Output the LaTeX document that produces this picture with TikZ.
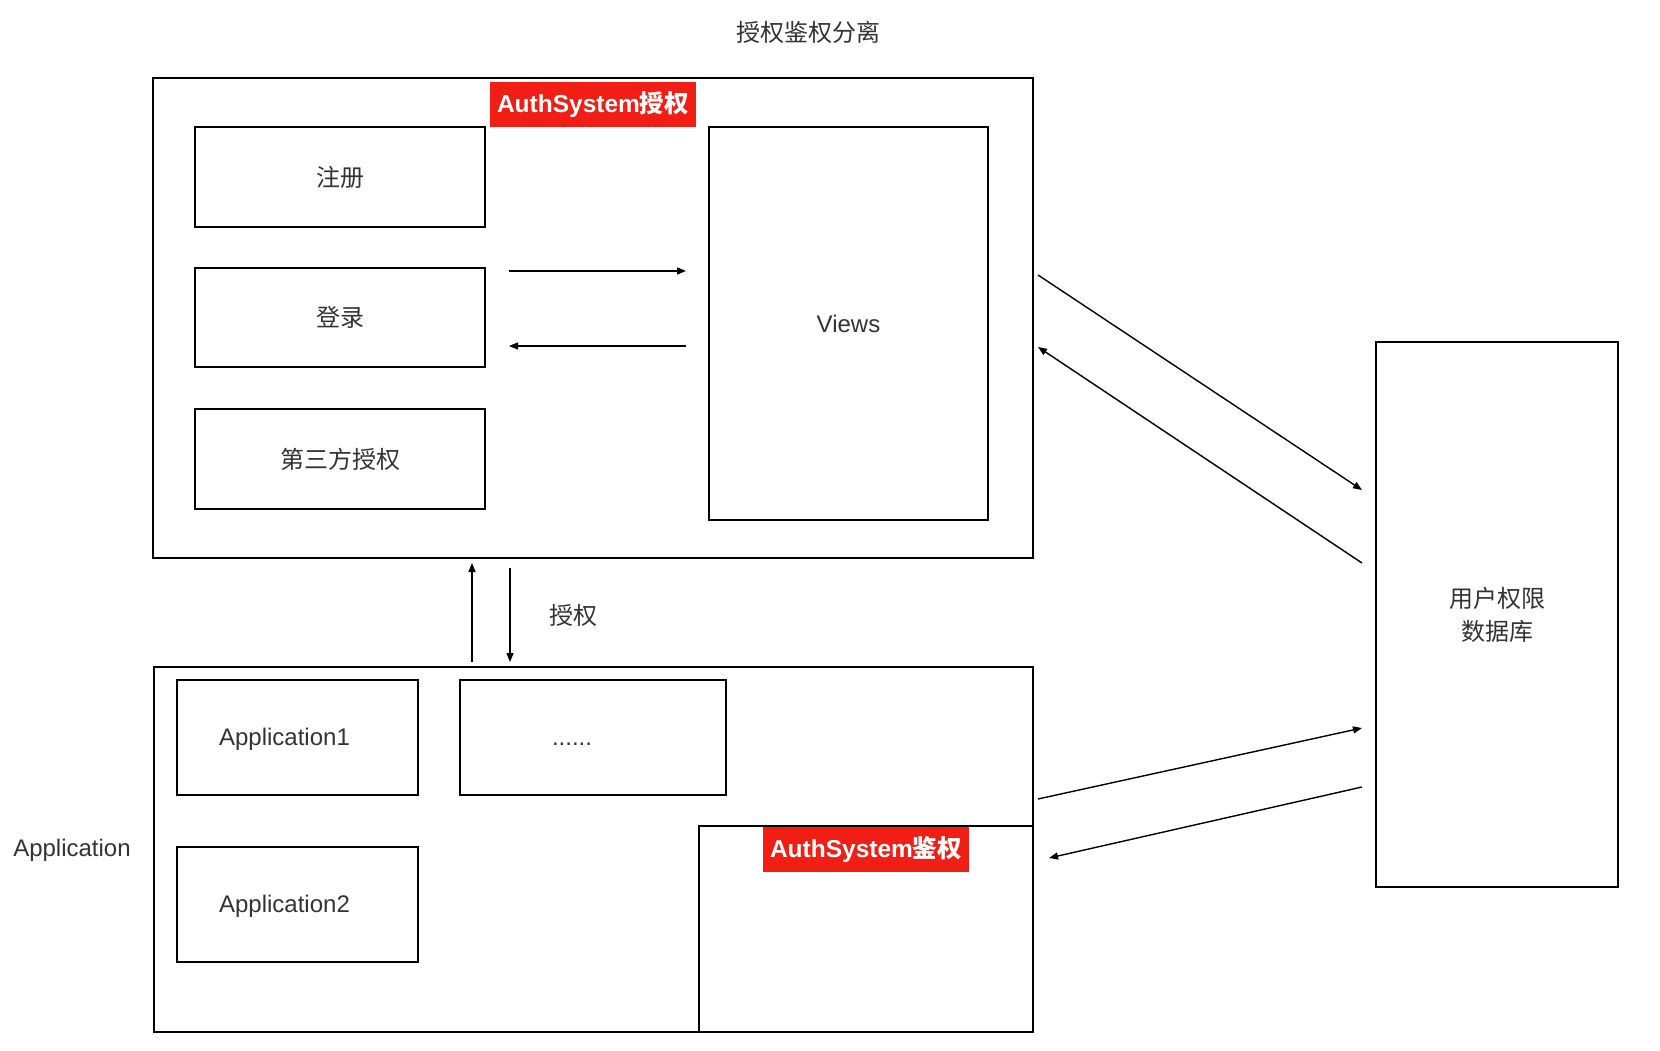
\documentclass[tikz,border=0pt]{standalone}
\usepackage{fontspec}
\setmainfont{Liberation Sans}
\newfontfamily\cjk{Noto Sans CJK SC}
\usetikzlibrary{arrows.meta}
\definecolor{txt}{HTML}{333333}
\definecolor{tagred}{HTML}{F01E14}
\begin{document}
\begin{tikzpicture}[x=1pt,y=-1pt,
  box/.style={draw=black,line width=2pt,inner sep=0pt,text=txt,font=\fontsize{24}{28}\selectfont},
  tag/.style={fill=tagred,inner sep=0pt,text=white,font=\bfseries\fontsize{24.5}{28}\selectfont},
  plain/.style={text=txt,font=\fontsize{24}{30}\selectfont,align=center},
  flow/.style={line width=1.4pt,-{Triangle[length=9pt,width=7pt]}}]
\useasboundingbox (0,0) rectangle (1660,1051);

% title
\node[plain] (title) at (808,32) {\cjk 授权鉴权分离};

% authorisation system
\node[box,minimum width=880.5pt,minimum height=480pt] (sysA) at (592.75,318) {};
\node[box,minimum width=290pt,minimum height=100pt] (reg) at (340,177) {\cjk 注册};
\node[box,minimum width=290pt,minimum height=99pt] (login) at (340,317.5) {\cjk 登录};
\node[box,minimum width=290pt,minimum height=100pt] (third) at (340,459) {\cjk 第三方授权};
\node[box,minimum width=279pt,minimum height=393pt] (views) at (848.5,323.5) {Views};
\node[tag,minimum width=206pt,minimum height=45pt] (tagA) at (593,104.5) {AuthSystem{\cjk\bfseries 授权}};

% applications
\node[box,minimum width=879.5pt,minimum height=365pt] (sysB) at (593.25,849.5) {};
\node[box,minimum width=241pt,minimum height=115pt,
      label={[plain,xshift=-13pt,yshift=-2pt]center:Application1}] (app1) at (297.5,737.5) {};
\node[box,minimum width=266pt,minimum height=115pt,
      label={[plain,xshift=-21pt,yshift=-7pt]center:......}] (more) at (593,737.5) {};
\node[box,minimum width=241pt,minimum height=115pt,
      label={[plain,xshift=-13pt,yshift=-2pt]center:Application2}] (app2) at (297.5,904.5) {};
\node[box,minimum width=334pt,minimum height=206pt] (authB) at (866,929) {};
\node[tag,minimum width=206pt,minimum height=45pt] (tagB) at (866,849.5) {AuthSystem{\cjk\bfseries 鉴权}};
\node[plain] (applbl) at (72,850) {Application};

% permission database
\node[box,minimum width=242pt,minimum height=545pt,align=center,font=\cjk\fontsize{24}{33}\selectfont] (db) at (1497,614.5) {用户权限\\数据库};

% connector end points
\coordinate (la1) at (509,271);  \coordinate (va1) at (686,271);
\coordinate (va2) at (686,346);  \coordinate (la2) at (509,346);
\coordinate (bu) at (472,662);   \coordinate (tu) at (472,563);
\coordinate (td) at (510,568);   \coordinate (bd) at (510,662);
\coordinate (s1) at (1038,275);  \coordinate (d1) at (1362,490);
\coordinate (d2) at (1362,563);  \coordinate (s2) at (1038,347);
\coordinate (s3) at (1038,799);  \coordinate (d3) at (1362,728);
\coordinate (d4) at (1362,787);  \coordinate (s4) at (1049,858);

\draw[flow] (la1) -- (va1);
\draw[flow] (va2) -- (la2);
\draw[flow] (bu) -- (tu);
\draw[flow] (td) -- (bd);
\node[plain] (grant) at (573,615) {\cjk 授权};
\draw[flow] (s1) -- (d1);
\draw[flow] (d2) -- (s2);
\draw[flow] (s3) -- (d3);
\draw[flow] (d4) -- (s4);
\end{tikzpicture}
\end{document}
